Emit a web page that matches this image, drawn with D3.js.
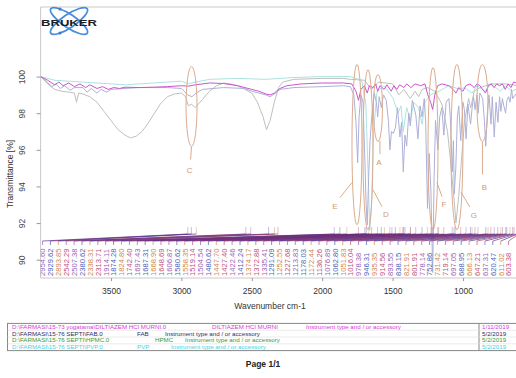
<!DOCTYPE html>
<html>
<head>
<meta charset="utf-8">
<script src="https://cdn.jsdelivr.net/npm/d3@7"></script>
<style>
  body { margin: 0; background: #fff; }
  text { font-family: "Liberation Sans", Arial, sans-serif; }
</style>
</head>
<body>
<div id="chart"></div>
<script>
// ---- data ----
const xTicks = [3500, 3000, 2500, 2000, 1500, 1000];
const yTicks = [90, 92, 94, 96, 98, 100];

// [wavenumber, transmittance %]
const diltiazem = [
  [4000,100.0],[3950,99.8],[3900,99.55],[3870,99.7],[3840,99.5],[3800,99.65],[3760,99.45],[3720,99.6],
  [3680,99.4],[3650,99.55],[3600,99.35],[3560,99.45],[3520,99.3],[3480,99.4],[3440,99.35],[3400,99.42],
  [3300,99.4],[3200,99.42],[3100,99.45],[3000,99.5],[2950,99.48],[2900,99.55],[2800,99.65],[2700,99.62],
  [2600,99.5],[2500,99.3],[2450,99.2],[2400,99.05],[2370,99.0],[2340,99.1],[2300,99.35],[2250,99.5],
  [2150,99.6],[2000,99.65],[1850,99.65],[1790,99.6],[1760,99.2],[1742,98.7],[1725,99.3],[1700,99.5],
  [1680,99.1],[1665,99.5],[1640,99.4],[1620,99.6],[1606,99.2],[1590,99.5],[1560,99.3],[1540,99.55],
  [1510,99.2],[1490,99.5],[1470,99.3],[1450,99.55],[1420,99.4],[1400,99.6],[1370,99.4],[1340,99.6],
  [1300,99.5],[1270,99.6],[1250,99.0],[1230,98.6],[1215,98.2],[1200,99.0],[1180,99.5],[1150,99.6],
  [1100,99.5],[1070,99.3],[1050,99.1],[1030,99.4],[1000,99.2],[980,99.5],[950,99.6],[920,99.4],
  [900,99.6],[880,99.5],[860,99.3],[840,99.1],[820,99.5],[800,99.6],[780,99.4],[760,99.6],[740,99.5],
  [720,99.6],[700,99.3],[680,99.6],[660,99.4],[640,99.7],[600,99.6]
];
const fab = [
  [4000,100.0],[3960,99.75],[3920,99.45],[3890,99.6],[3860,99.35],[3830,99.5],[3790,99.25],[3760,99.4],
  [3700,99.4],[3670,99.15],[3640,99.35],[3600,99.1],[3570,99.3],[3530,99.15],[3500,99.3],[3400,99.35],
  [3300,99.4],[3200,99.4],[3100,99.4],[3000,99.35],[2955,99.0],[2925,98.9],[2895,99.1],[2850,99.3],
  [2700,99.4],[2550,99.35],[2500,99.2],[2400,99.0],[2370,98.9],[2330,99.1],[2300,99.3],[2200,99.4],
  [2000,99.45],[1850,99.5],[1800,99.45],[1775,99.0],[1760,97.5],[1748,95.3],[1738,97.8],[1725,99.0],
  [1710,98.6],[1697,95.5],[1688,93.0],[1680,91.9],[1670,94.5],[1660,96.5],[1648,97.8],[1630,99.1],
  [1615,98.6],[1606,97.8],[1595,98.9],[1580,98.3],[1565,99.0],[1545,98.7],[1530,97.6],[1519,96.0],
  [1508,97.0],[1495,96.9],[1480,97.2],[1465,98.3],[1448,96.7],[1436,97.5],[1424,94.8],[1412,96.8],
  [1400,96.2],[1385,98.0],[1374,97.3],[1360,98.7],[1335,97.9],[1320,96.6],[1305,98.4],[1291,97.8],
  [1275,98.8],[1265,97.5],[1252,92.8],[1240,95.8],[1228,93.8],[1215,89.3],[1205,94.5],[1195,97.6],
  [1178,96.0],[1165,97.8],[1150,98.3],[1136,96.8],[1120,98.6],[1100,98.8],[1090,97.8],[1076,94.8],
  [1068,96.5],[1062,93.6],[1051,95.0],[1040,97.8],[1030,98.4],[1016,96.5],[1000,98.6],[990,98.2],
  [978,96.6],[965,98.5],[946,97.4],[935,98.3],[925,98.9],[914,98.2],[900,99.0],[893,98.0],[880,99.1],
  [860,98.8],[848,97.6],[838,96.2],[828,97.9],[815,99.0],[801,97.4],[792,98.9],[778,96.7],[765,98.6],
  [752,97.5],[740,98.9],[731,98.1],[720,98.8],[710,98.4],[697,98.0],[688,98.7],[676,98.9],[666,98.6],
  [655,99.3],[647,98.8],[600,99.3]
];
const hpmc = [
  [4000,100.0],[3950,99.6],[3900,99.3],[3850,99.2],[3800,99.15],[3760,99.1],[3745,98.6],[3730,99.1],
  [3700,99.05],[3650,98.9],[3600,98.6],[3550,98.1],[3500,97.6],[3450,97.1],[3400,96.8],[3360,96.65],
  [3320,96.75],[3280,97.0],[3240,97.4],[3200,97.9],[3150,98.5],[3100,98.9],[3050,99.05],[3000,99.1],
  [2970,98.9],[2950,98.4],[2930,98.5],[2900,98.3],[2880,98.5],[2850,98.75],[2800,99.2],[2750,99.5],
  [2700,99.65],[2650,99.6],[2600,99.5],[2550,99.3],[2500,99.1],[2460,98.6],[2420,97.8],[2395,97.1],
  [2370,97.6],[2340,98.6],[2310,99.4],[2280,99.7],[2200,99.85],[2000,99.9],[1850,99.9],[1800,99.85],
  [1700,99.8],[1650,99.3],[1600,99.7],[1500,99.6],[1455,99.0],[1420,99.3],[1375,98.8],[1340,99.2],
  [1315,98.9],[1290,99.3],[1250,99.4],[1200,99.2],[1150,98.5],[1110,97.0],[1090,95.5],[1060,93.0],
  [1050,92.0],[1030,93.5],[1010,95.5],[990,97.5],[960,98.8],[945,98.3],[920,99.2],[880,99.4],
  [840,99.5],[800,99.6],[700,99.6],[600,99.5]
];
const pvp = [
  [4000,100.0],[3900,99.8],[3800,99.75],[3700,99.7],[3600,99.65],[3500,99.6],[3400,99.55],[3300,99.6],
  [3200,99.65],[3100,99.7],[3000,99.75],[2950,99.6],[2900,99.7],[2800,99.85],[2600,99.9],[2400,99.85],
  [2200,99.95],[2000,100.0],[1800,100.0],[1720,99.8],[1690,98.5],[1675,95.0],[1662,91.6],[1650,93.0],
  [1635,97.0],[1610,99.2],[1560,99.5],[1495,98.8],[1462,98.0],[1440,98.4],[1424,97.0],[1400,98.3],
  [1372,97.6],[1350,98.6],[1315,98.3],[1290,97.4],[1270,98.6],[1230,99.0],[1170,99.2],[1100,99.5],
  [1020,99.3],[990,99.4],[935,99.1],[900,99.5],[845,99.2],[800,99.6],[735,99.2],[700,99.5],
  [650,99.2],[600,99.4]
];

const peaks = [
  2954.60, 2929.62, 2893.85, 2542.29, 2507.38, 2380.62, 2338.31, 2313.71, 1914.11, 1874.28,
  1824.80, 1742.40, 1697.43, 1687.31, 1668.90, 1648.69, 1606.87, 1580.62, 1558.35, 1519.14,
  1504.54, 1480.62, 1447.70, 1427.40, 1422.46, 1412.24, 1374.17, 1372.88, 1335.41, 1291.09,
  1252.55, 1227.68, 1213.83, 1178.03, 1172.44, 1136.26, 1076.89, 1062.80, 1051.83, 1016.04,
  978.38, 946.31, 935.35, 914.56, 893.55, 838.15, 821.91, 801.91, 778.14, 752.86,
  731.42, 719.14, 697.05, 688.95, 666.13, 647.21, 637.31, 620.47, 611.02, 603.38
];

// marked bands: letter, centre wavenumber, top and bottom of the ring in %T
const bandLabels = ['C', 'E', 'D', 'A', 'F', 'G', 'B'];
const bandWn = [2928, 1753, 1675, 1604, 1213, 1043, 862];
const bandTop = [100.55, 100.66, 100.38, 100.11, 100.49, 100.66, 100.66];
const bandBottom = [96.18, 91.91, 91.64, 96.45, 91.64, 91.64, 96.45];

const files = [
  'D:\\FARMASI\\15-73 yogatama\\DILTIAZEM HCl MURNI.0',
  'D:\\FARMASI\\15-76 SEPTI\\FAB.0',
  'D:\\FARMASI\\15-76 SEPTI\\HPMC.0',
  'D:\\FARMASI\\15-76 SEPTI\\PVP.0'
];
const samples = ['DILTIAZEM HCl MURNI', 'FAB', 'HPMC', 'PVP'];
const dates = ['1/11/2019', '5/2/2019', '5/2/2019', '5/2/2019'];

// ---- layout / style ----
const W = 516, H = 378;
const plotLeft = 40.6, plotTop = 7, plotBottom = 278;
const lineColors = ['#cf52cf', '#aeb0d6', '#bcc0bc', '#ade2e2'];
const textColors = ['#d23fd2', '#2c2c66', '#3b963b', '#3fd4e4'];
const peakColors = ['#9a5fb5', '#4b5fb8', '#d4864f', '#c0507a'];
const fanColors = ['#5e2a88', '#7a2f7a', '#3f2f8f', '#a33a5c'];
const ringColor = '#dcab8e';

const svg = d3.select('#chart').append('svg')
  .attr('width', W).attr('height', H)
  .style('background', '#fff');

const x = d3.scaleLinear().domain([4000, 600]).range([plotLeft, 519.3]);
const y = d3.scaleLinear().domain([89, 103.8]).range([plotBottom, plotTop]);

svg.append('defs').append('clipPath').attr('id', 'plot')
  .append('rect').attr('x', plotLeft).attr('y', plotTop)
  .attr('width', W - plotLeft).attr('height', plotBottom - plotTop);

// frame
svg.append('path')
  .attr('d', `M${W},${plotTop}H${plotLeft}V${plotBottom}H${W}`)
  .attr('fill', 'none').attr('stroke', '#c9c9c9').attr('stroke-width', 1);

// logo
const logo = svg.append('g');
[34, -34].forEach(a => {
  logo.append('ellipse')
    .attr('cx', 69).attr('cy', 21).attr('rx', 22).attr('ry', 6.5)
    .attr('transform', `rotate(${a},69,21)`)
    .attr('fill', 'none').attr('stroke', '#4a8ddc').attr('stroke-width', 1.8);
});
logo.append('circle').attr('cx', 60).attr('cy', 9).attr('r', 1.6).attr('fill', '#3a7cd0');
logo.append('circle').attr('cx', 60).attr('cy', 33).attr('r', 1.6).attr('fill', '#3a7cd0');
logo.append('text').attr('x', 41).attr('y', 25.5)
  .attr('textLength', 56).attr('lengthAdjust', 'spacingAndGlyphs')
  .style('font-size', '8.5px').style('font-weight', 'bold').attr('fill', '#1e1e1e')
  .text('BRUKER');

// axes
const xAxis = svg.append('g')
  .attr('transform', `translate(0,${plotBottom})`)
  .call(d3.axisBottom(x).tickValues(xTicks).tickSize(3).tickPadding(7).tickFormat(d3.format('d')));
xAxis.select('.domain').remove();
xAxis.selectAll('line').attr('stroke', '#999');
xAxis.selectAll('text').style('font-size', '8.5px').attr('fill', '#333');

const yAxis = svg.append('g')
  .attr('transform', `translate(${plotLeft},0)`)
  .call(d3.axisLeft(y).tickValues(yTicks).tickSize(4));
yAxis.select('.domain').remove();
yAxis.selectAll('line').attr('stroke', '#999');
yAxis.selectAll('text')
  .attr('transform', 'rotate(-90)')
  .attr('x', 0).attr('y', -15.6).attr('dy', 0)
  .style('text-anchor', 'middle')
  .style('font-size', '8.5px').attr('fill', '#444');

svg.append('text')
  .attr('transform', 'translate(13,174) rotate(-90)')
  .style('text-anchor', 'middle').style('font-size', '8.5px').attr('fill', '#333')
  .text('Transmittance [%]');
svg.append('text')
  .attr('x', 270).attr('y', 309)
  .style('text-anchor', 'middle').style('font-size', '8.5px').attr('fill', '#333')
  .text('Wavenumber cm-1');

// spectra
const line = d3.line().x(d => x(d[0])).y(d => y(d[1]));
const plot = svg.append('g').attr('clip-path', 'url(#plot)');
[[hpmc, 2], [pvp, 3], [fab, 1], [diltiazem, 0]].forEach(([s, i]) => {
  plot.append('path').datum(s)
    .attr('fill', 'none').attr('stroke', lineColors[i])
    .attr('stroke-width', 1).attr('stroke-linejoin', 'round')
    .attr('d', line);
});

// peak picking labels with leader fan
const slot = i => 42.5 + i * 7.9;
const pk = plot.append('g');
peaks.forEach((p, i) => {
  const c = peakColors[i % peakColors.length];
  pk.append('line').attr('x1', x(p)).attr('x2', x(p)).attr('y1', 227).attr('y2', 234)
    .attr('stroke', c).attr('stroke-opacity', 0.5).attr('stroke-width', 0.8);
  pk.append('line').attr('x1', slot(i)).attr('y1', 241).attr('x2', x(p)).attr('y2', 234)
    .attr('stroke', fanColors[i % fanColors.length]).attr('stroke-opacity', 0.85).attr('stroke-width', 0.8);
  pk.append('line').attr('x1', slot(i)).attr('x2', slot(i)).attr('y1', 241).attr('y2', 245)
    .attr('stroke', c).attr('stroke-width', 0.7);
  pk.append('text')
    .attr('transform', `translate(${slot(i) + 2.8},276) rotate(-90)`)
    .style('font-size', '7.6px').attr('fill', c)
    .text(d3.format('.2f')(p));
});

// marked bands
const ringOffsets = {
  C: [0, 40, -1, 53, -2, 64], E: [-5, 38, -17, 53, -22, 62], D: [5, 40, 14, 57, 18, 65],
  A: [2, 33, 2, 46, 1, 54], F: [4, 34, 9, 48, 11, 56], G: [4, 45, 13, 60, 17, 68],
  B: [0, 38.5, 0, 71.5, 2, 84]
};
const ringRx = [5.5, 5, 5, 4.5, 5, 6, 5.5];
bandLabels.forEach((b, i) => {
  const cx = x(bandWn[i]);
  const cy = (y(bandTop[i]) + y(bandBottom[i])) / 2;
  const ry = (y(bandBottom[i]) - y(bandTop[i])) / 2;
  const o = ringOffsets[b];
  svg.append('ellipse').attr('cx', cx).attr('cy', cy).attr('rx', ringRx[i]).attr('ry', ry)
    .attr('fill', 'none').attr('stroke', ringColor).attr('stroke-width', 1);
  svg.append('line').attr('x1', cx + o[0]).attr('y1', cy + o[1]).attr('x2', cx + o[2]).attr('y2', cy + o[3])
    .attr('stroke', ringColor).attr('stroke-width', 1);
  svg.append('text').attr('x', cx + o[4]).attr('y', cy + o[5]).attr('dy', '0.35em')
    .style('text-anchor', 'middle').style('font-size', '8px').attr('fill', '#cf9a78')
    .text(b);
});

// file table
const tbl = svg.append('g');
const rowTop = 323.4, rowH = 6.8;
tbl.append('rect').attr('x', 7.5).attr('y', rowTop).attr('width', W).attr('height', rowH * 4)
  .attr('fill', 'none').attr('stroke', '#888').attr('stroke-width', 1);
tbl.append('line').attr('x1', 479).attr('x2', 479).attr('y1', rowTop).attr('y2', rowTop + rowH * 4)
  .attr('stroke', '#888');
[1, 2, 3].forEach(r => tbl.append('line')
  .attr('x1', 7.5).attr('x2', W).attr('y1', rowTop + r * rowH).attr('y2', rowTop + r * rowH)
  .attr('stroke', '#ddd').attr('stroke-width', 0.6));
const sampleX = [212, 137, 155, 137];
const instrX = [306, 165, 185, 171];
files.forEach((f, r) => {
  const yy = rowTop + r * rowH + 5.4;
  const g = tbl.append('g').attr('fill', textColors[r]).style('font-size', '6.2px');
  g.append('text').attr('x', 12).attr('y', yy).text(f);
  g.append('text').attr('x', sampleX[r]).attr('y', yy).text(samples[r]);
  g.append('text').attr('x', instrX[r]).attr('y', yy).text('Instrument type and / or accessory');
  g.append('text').attr('x', 482).attr('y', yy).text(dates[r]);
});

svg.append('text').attr('x', 263).attr('y', 366.5)
  .style('text-anchor', 'middle').style('font-size', '8.5px').style('font-weight', 'bold')
  .attr('fill', '#222').text('Page 1/1');
</script>
</body>
</html>
